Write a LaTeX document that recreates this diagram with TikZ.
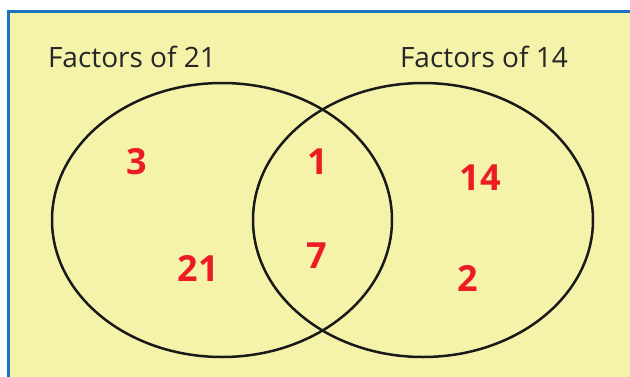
\documentclass[tikz,border=0pt]{standalone}
\usepackage{fontspec}
\setmainfont{Open Sans}
\usetikzlibrary{shapes.geometric}
\definecolor{panel}{RGB}{245,243,170}
\definecolor{frameblue}{RGB}{28,117,188}
\definecolor{numred}{RGB}{237,28,36}
\begin{document}
\begin{tikzpicture}[x=1pt, y=-1pt,
    setring/.style={draw=black!90, line width=2.5pt},
    title/.style={font=\fontsize{28}{30}\selectfont, text=black!85},
    elem/.style={font=\fontsize{36}{38}\selectfont\bfseries, text=numred}]
  \useasboundingbox (0,0) rectangle (630,376);
  \clip (0,0) rectangle (630,376);
  % panel with blue frame on the top and left
  \draw[frameblue, line width=2.6pt, fill=panel] (8.5,11.5) rectangle (660,400);
  % the two sets
  \node[setring, ellipse, minimum width=340, minimum height=274, inner sep=0pt] (s21) at (222,220) {};
  \node[setring, ellipse, minimum width=340, minimum height=274, inner sep=0pt] (s14) at (423,220) {};
  \node[title] (t21) at (132,57) {Factors of 21};
  \node[title] (t14) at (484,57) {Factors of 14};
  % elements
  \node[elem] (n3) at (137,162) {3};
  \node[elem] (n21) at (198,268) {21};
  \node[elem] (n1) at (318,162) {1};
  \node[elem] (n7) at (317,256) {7};
  \node[elem] (n14) at (480,178) {14};
  \node[elem] (n2) at (468,278) {2};
\end{tikzpicture}
\end{document}
